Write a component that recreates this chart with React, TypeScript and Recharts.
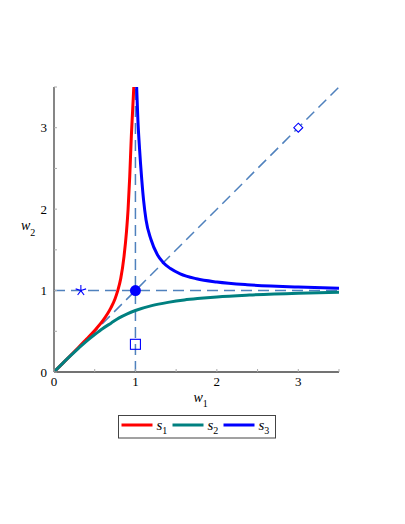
import React from 'react';
import { ComposedChart, Line, Scatter, XAxis, YAxis, ReferenceLine } from 'recharts';

// curves as [w1, w2] pairs
const s1Points = [
  [0, 0], [0.1, 0.1], [0.2, 0.2], [0.3, 0.3], [0.4, 0.405], [0.5, 0.51], [0.6, 0.63],
  [0.7, 0.79], [0.75, 0.9], [0.78, 0.99], [0.82, 1.15], [0.86, 1.42], [0.89, 1.72],
  [0.91, 2.0], [0.93, 2.4], [0.95, 2.9], [0.965, 3.2], [0.98, 3.5],
];
const s2Points = [
  [0, 0], [0.1, 0.1], [0.2, 0.197], [0.3, 0.29], [0.4, 0.38], [0.5, 0.46], [0.6, 0.535],
  [0.7, 0.6], [0.8, 0.665], [0.9, 0.715], [1, 0.755], [1.2, 0.815], [1.4, 0.855],
  [1.6, 0.885], [1.8, 0.905], [2, 0.922], [2.4, 0.945], [3, 0.968], [3.5, 0.98],
];
const s3Points = [
  [1.015, 3.5], [1.03, 3.1], [1.05, 2.75], [1.078, 2.36], [1.1, 2.11], [1.13, 1.87],
  [1.19, 1.63], [1.27, 1.44], [1.34, 1.345], [1.43, 1.27], [1.55, 1.205], [1.75, 1.145],
  [2, 1.105], [2.37, 1.072], [2.66, 1.056], [3, 1.043], [3.5, 1.03],
];

const starPoint = [{ x: 0.33, y: 1 }];
const dotPoint = [{ x: 1, y: 1 }];
const squarePoint = [{ x: 1, y: 0.34 }];
const diamondPoint = [{ x: 3, y: 3 }];

const axisTicks = [0, 0.5, 1, 1.5, 2, 2.5, 3, 3.5];
const labelledTicks = [0, 1, 2, 3];

const seriesNames = ['1', '2', '3'];
const seriesColors = ['#ff0000', '#008080', '#0000ff'];

const toXY = (pts: number[][]) => pts.map(([x, y]) => ({ x, y }));

const DASH = '#4f81bd';
const MARK = '#0000ff';
const FONT = '"Liberation Serif", "DejaVu Serif", serif';

const XTick = (props: any) => {
  const { x, y, payload } = props;
  const v = payload.value;
  return (
    <g>
      <line x1={x} y1={y} x2={x} y2={y - 3} stroke="#aaa" />
      {labelledTicks.includes(v) && (
        <text x={x} y={y + 14} textAnchor="middle" fontSize={13} fontFamily={FONT} fill="#000">{v}</text>
      )}
    </g>
  );
};

const YTick = (props: any) => {
  const { x, y, payload } = props;
  const v = payload.value;
  return (
    <g>
      <line x1={x} y1={y} x2={x + 3} y2={y} stroke="#aaa" />
      {labelledTicks.includes(v) && (
        <text x={x - 7} y={y + 4.5} textAnchor="end" fontSize={13} fontFamily={FONT} fill="#000">{v}</text>
      )}
    </g>
  );
};

const Star = ({ cx, cy }: any) => {
  const r = 5.5;
  const arms = [90, 18, 162, -54, -126];
  return (
    <g stroke={MARK} strokeWidth={1.1}>
      {arms.map(a => {
        const t = (a * Math.PI) / 180;
        return <line key={a} x1={cx} y1={cy} x2={cx + r * Math.cos(t)} y2={cy - r * Math.sin(t)} />;
      })}
    </g>
  );
};
const Dot = ({ cx, cy }: any) => <circle cx={cx} cy={cy} r={5.5} fill={MARK} />;
const Square = ({ cx, cy }: any) => (
  <rect x={cx - 5} y={cy - 5} width={10} height={10} fill="none" stroke={MARK} strokeWidth={1.1} />
);
const Diamond = ({ cx, cy }: any) => (
  <path d={`M${cx} ${cy - 4.5} L${cx + 4.5} ${cy} L${cx} ${cy + 4.5} L${cx - 4.5} ${cy} Z`}
    fill="#fff" stroke={MARK} strokeWidth={1.1} />
);

const XLabel = ({ viewBox }: any) => (
  <text x={viewBox.x + viewBox.width / 2 - 3} y={viewBox.y + 30} fontFamily={FONT} fill="#000">
    <tspan fontStyle="italic" fontSize={14}>w</tspan>
    <tspan fontSize={10} dy={5}>1</tspan>
  </text>
);
const YLabel = () => (
  <text x={21} y={230} fontFamily={FONT} fill="#000">
    <tspan fontStyle="italic" fontSize={14}>w</tspan>
    <tspan fontSize={10} dy={6}>2</tspan>
  </text>
);

export default function App() {
  return (
    <div style={{ position: 'absolute', left: 0, top: 0, width: 405, height: 524, background: '#fff' }}>
      <ComposedChart width={405} height={412} margin={{ top: 87, right: 66, bottom: 10, left: 0 }}>
        <XAxis type="number" dataKey="x" domain={[0, 3.5]} ticks={axisTicks} allowDataOverflow
          height={30} tickSize={0} tickMargin={0} tick={<XTick />}
          axisLine={{ stroke: '#444', strokeWidth: 1.3 }} label={<XLabel />} />
        <YAxis type="number" dataKey="y" domain={[0, 3.5]} ticks={axisTicks} allowDataOverflow
          width={54} tickSize={0} tickMargin={0} tick={<YTick />}
          axisLine={{ stroke: '#444', strokeWidth: 1.3 }} label={<YLabel />} />

        <ReferenceLine segment={[{ x: 0, y: 0 }, { x: 3.5, y: 3.5 }]} stroke={DASH} strokeWidth={1.5} strokeDasharray="11 6" />
        <ReferenceLine y={1} stroke={DASH} strokeWidth={1.5} strokeDasharray="11 6" />
        <ReferenceLine x={1} stroke={DASH} strokeWidth={1.5} strokeDasharray="11 6" />

        <Line data={toXY(s1Points)} dataKey="y" type="monotone" stroke={seriesColors[0]} strokeWidth={3} dot={false} isAnimationActive={false} />
        <Line data={toXY(s2Points)} dataKey="y" type="monotone" stroke={seriesColors[1]} strokeWidth={3} dot={false} isAnimationActive={false} />
        <Line data={toXY(s3Points)} dataKey="y" type="monotone" stroke={seriesColors[2]} strokeWidth={3} dot={false} isAnimationActive={false} />

        <Scatter data={starPoint} dataKey="y" shape={<Star />} isAnimationActive={false} />
        <Scatter data={dotPoint} dataKey="y" shape={<Dot />} isAnimationActive={false} />
        <Scatter data={squarePoint} dataKey="y" shape={<Square />} isAnimationActive={false} />
        <Scatter data={diamondPoint} dataKey="y" shape={<Diamond />} isAnimationActive={false} />
      </ComposedChart>

      {/* legend box */}
      <svg style={{ position: 'absolute', left: 118, top: 415 }} width={158} height={24}>
        <rect x={0.5} y={0.5} width={157} height={22.5} fill="#fff" stroke="#444" strokeWidth={1} />
        {seriesNames.map((n, i) => {
          const x0 = 3.5 + i * 51;
          return (
            <g key={n}>
              <line x1={x0} y1={10} x2={x0 + 31} y2={10} stroke={seriesColors[i]} strokeWidth={3} />
              <text x={x0 + 35} y={14.5} fontFamily={FONT} fill="#000">
                <tspan fontStyle="italic" fontSize={15}>s</tspan>
                <tspan fontSize={10} dy={4}>{n}</tspan>
              </text>
            </g>
          );
        })}
      </svg>
    </div>
  );
}
